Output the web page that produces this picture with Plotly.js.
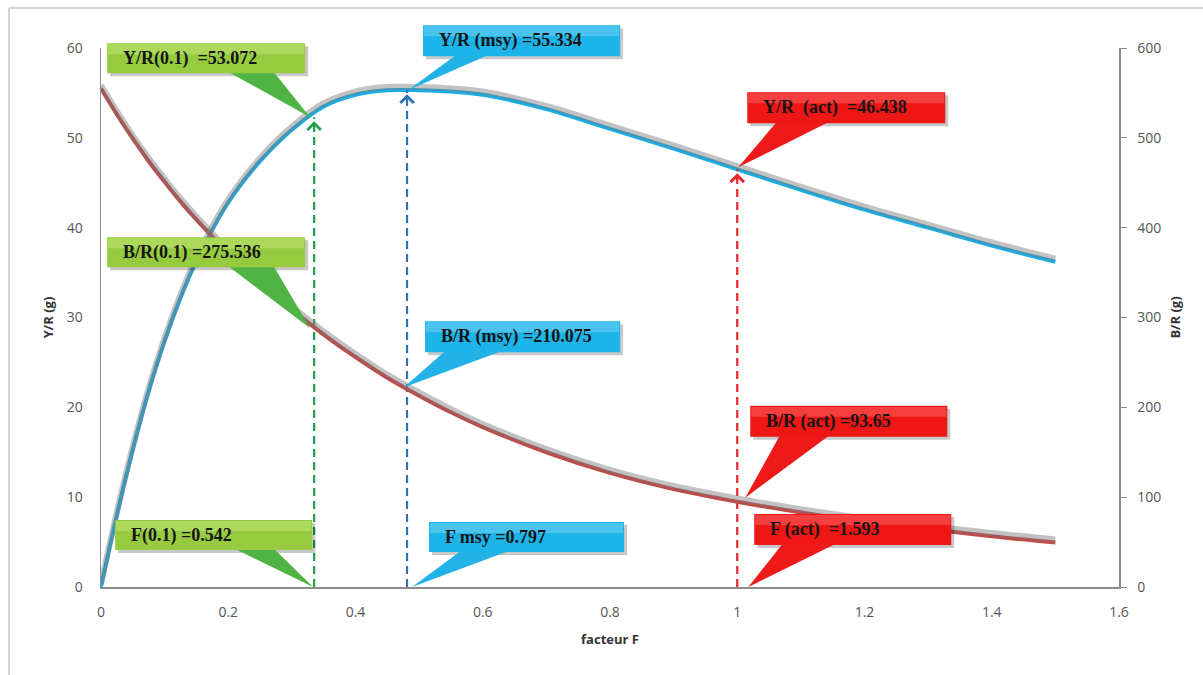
<!DOCTYPE html>
<html>
<head>
<meta charset="utf-8">
<script src="https://cdn.plot.ly/plotly-3.0.1.min.js"></script>
<style>html,body{margin:0;padding:0;background:#fff;}#chart{width:1203px;height:675px;}</style>
</head>
<body>
<div id="chart"></div>
<script>
// ---- data ----
var facteurF = [0, 0.025, 0.05, 0.075, 0.1, 0.125, 0.15, 0.2, 0.25, 0.3, 0.35, 0.4, 0.45, 0.5, 0.55, 0.6, 0.7, 0.8, 0.9, 1.0, 1.1, 1.2, 1.3, 1.4, 1.5];
var yieldPerRecruit = [0, 8, 15.3, 21.8, 27.4, 32.2, 36.3, 42.8, 47.4, 50.9, 53.5, 54.8, 55.3, 55.3, 55.15, 54.8, 53.2, 51.0, 48.8, 46.5, 44.2, 42.0, 40.0, 38.0, 36.2];
var biomassPerRecruit = [555, 526, 499, 474, 451, 429, 409, 372, 339, 309, 281, 256, 233, 213, 194.5, 178, 150, 127, 109, 95, 83, 73, 64.5, 56.5, 49.5];

// reference points: F(0.1), F msy, F act (in facteur F)
var refF = [0.335, 0.481, 1.0];
var refYR = [52.3, 55.3, 46.5];
var refBR = [288, 219, 95];

var labelsYR = ["Y/R(0.1)\u00a0 =53.072", "Y/R (msy) =55.334", "Y/R\u00a0 (act)\u00a0 =46.438"];
var labelsBR = ["B/R(0.1) =275.536", "B/R (msy) =210.075", "B/R (act) =93.65"];
var labelsF = ["F(0.1) =0.542", "F msy =0.797", "F (act)\u00a0 =1.593"];

var xRange = [0, 1.6];
var yLeftRange = [0, 60];
var yRightRange = [0, 600];
var xTickVals = [0, 0.2, 0.4, 0.6, 0.8, 1, 1.2, 1.4, 1.6];
var yLeftTicks = [0, 10, 20, 30, 40, 50, 60];
var yRightTicks = [0, 100, 200, 300, 400, 500, 600];

// ---- styling ----
var themes = [
  {box: "#97cb3f", hi: "#b3dc63", wedge: "#4fb444", dash: "#23a04a"},
  {box: "#1db4ea", hi: "#56c8f0", wedge: "#22b2e6", dash: "#2e74b5"},
  {box: "#ef1616", hi: "#f64848", wedge: "#ee1a1a", dash: "#e8262b"}
];
// pixel geometry for callouts: [boxX0, boxX1, boxTop, boxBottom, wedgeX0, wedgeX1, tipDx, tipDy]
var geomYR = [[-207, -9, 74, 44, -87, -41, -4, 0], [16, 213, 65, 34, 50, 83, 1, 0], [10, 208, 77, 46, 40, 93, 1, 2]];
var geomBR = [[-207, -9, 91, 61, -87, -41, -4, 0], [18, 213, 69, 38, 39, 97, -3, 3], [13, 210, 96, 65, 43, 93, 8, 4]];
var geomF  = [[-199, -2, 67, 37, -81, -41, -1, 0], [22, 217, 65, 35, 55, 104, 5, 0], [17, 214, 73, 42, 46, 100, 11, 0]];

function toPaperX(v) { return (v - xRange[0]) / (xRange[1] - xRange[0]); }
function toPaperY(v, r) { return (v - r[0]) / (r[1] - r[0]); }

var traces = [];
// shadows
traces.push({x: facteurF, y: yieldPerRecruit, yaxis: "y3", mode: "lines", line: {color: "rgba(120,120,120,0.45)", width: 6, shape: "spline"}, hoverinfo: "skip", showlegend: false});
traces.push({x: facteurF, y: biomassPerRecruit, yaxis: "y4", mode: "lines", line: {color: "rgba(120,120,120,0.45)", width: 6, shape: "spline"}, hoverinfo: "skip", showlegend: false});
// curves
traces.push({x: facteurF, y: yieldPerRecruit, yaxis: "y", mode: "lines", name: "Y/R", line: {color: "#1aaee6", width: 4, shape: "spline"}, showlegend: false});
traces.push({x: facteurF, y: biomassPerRecruit, yaxis: "y2", mode: "lines", name: "B/R", line: {color: "#bf4a47", width: 4, shape: "spline"}, showlegend: false});
// dashed verticals
for (var i = 0; i < refF.length; i++) {
  traces.push({x: [refF[i], refF[i]], y: [0, refYR[i]], yaxis: "y", mode: "lines", line: {color: themes[i].dash, width: 2.2, dash: "8px,5px"}, hoverinfo: "skip", showlegend: false});
}

var shapes = [];
var annotations = [];

function addCallout(xv, yv, yr, g, th, text) {
  var px = toPaperX(xv), py = toPaperY(yv, yr);
  var common = {xref: "paper", yref: "paper", xsizemode: "pixel", ysizemode: "pixel", xanchor: px, yanchor: py};
  shapes.push(Object.assign({type: "rect", x0: g[0] + 3, x1: g[1] + 3, y0: g[2] - 3, y1: g[3] - 3, fillcolor: "rgba(0,0,0,0.22)", line: {width: 0}}, common));
  shapes.push(Object.assign({type: "path", path: "M" + g[4] + "," + (g[3] + 2) + " L" + g[5] + "," + (g[3] + 2) + " L" + g[6] + "," + g[7] + " Z", fillcolor: th.wedge, line: {width: 0}}, common));
  shapes.push(Object.assign({type: "rect", x0: g[0], x1: g[1], y0: g[2], y1: g[3], fillcolor: th.box, line: {width: 0}}, common));
  shapes.push(Object.assign({type: "rect", x0: g[0] + 1, x1: g[1] - 1, y0: g[2] - 1, y1: g[2] - 11, fillcolor: th.hi, line: {width: 0}, opacity: 0.8}, common));
  annotations.push({x: px, y: py, xref: "paper", yref: "paper", text: text, showarrow: false, xanchor: "left", yanchor: "middle",
    xshift: g[0] + 14, yshift: (g[2] + g[3]) / 2,
    font: {family: "Liberation Serif", size: 18, color: "#151515"}});
}

for (var k = 0; k < refF.length; k++) {
  addCallout(refF[k], refYR[k], yLeftRange, geomYR[k], themes[k], "<b>" + labelsYR[k] + "</b>");
  addCallout(refF[k], refBR[k], yRightRange, geomBR[k], themes[k], "<b>" + labelsBR[k] + "</b>");
  addCallout(refF[k], 0, yLeftRange, geomF[k], themes[k], "<b>" + labelsF[k] + "</b>");
  annotations.push({x: refF[k], y: refYR[k], xref: "x", yref: "y", ax: 0, ay: 12, axref: "pixel", ayref: "pixel",
    showarrow: true, arrowhead: 4, arrowsize: 1.3, arrowwidth: 2, arrowcolor: themes[k].dash, standoff: 4, text: ""});
}

// outer frame of the picture
shapes.push({type: "line", xref: "paper", yref: "paper", x0: -0.0904, x1: -0.0904, y0: 1.0742, y1: -0.2, line: {color: "#c4c4c4", width: 1.5}, layer: "below"});
shapes.push({type: "line", xref: "paper", yref: "paper", x0: -0.0904, x1: 1.1, y0: 1.0742, y1: 1.0742, line: {color: "#c4c4c4", width: 1.5}, layer: "below"});

var tickFont = {family: "Open Sans", size: 14, color: "#555"};
var titleFont = {family: "Open Sans", size: 13, color: "#333"};

var layout = {
  width: 1203, height: 675,
  margin: {l: 101, r: 84, t: 48, b: 88, pad: 0},
  paper_bgcolor: "#fff", plot_bgcolor: "#fff",
  showlegend: false,
  xaxis: {range: xRange, tickvals: xTickVals, showgrid: false, zeroline: false, showline: true, linecolor: "#8c8c8c", linewidth: 1.5,
    ticks: "", tickfont: tickFont, ticklabelstandoff: 12,
    title: {text: "<b>facteur F</b>", font: titleFont, standoff: 14}},
  yaxis: {range: yLeftRange, tickvals: yLeftTicks, showgrid: false, zeroline: false, showline: true, linecolor: "#8c8c8c", linewidth: 1.5,
    ticks: "", tickfont: tickFont, ticklabelstandoff: 14,
    title: {text: "<b>Y/R (g)</b>", font: titleFont, standoff: 10}},
  yaxis2: {range: yRightRange, tickvals: yRightTicks, overlaying: "y", side: "right", showgrid: false, zeroline: false, showline: true,
    linecolor: "#8c8c8c", linewidth: 1.5, ticks: "outside", ticklen: 6, tickcolor: "#8c8c8c", tickfont: tickFont, ticklabelstandoff: 8,
    title: {text: "<b>B/R (g)</b>", font: titleFont, standoff: 10}},
  yaxis3: {range: [yLeftRange[0] - 0.35, yLeftRange[1] - 0.35], overlaying: "y", visible: false},
  yaxis4: {range: [yRightRange[0] - 3.5, yRightRange[1] - 3.5], overlaying: "y", visible: false},
  shapes: shapes,
  annotations: annotations
};

Plotly.newPlot("chart", traces, layout, {displayModeBar: false, staticPlot: true});
</script>
</body>
</html>
